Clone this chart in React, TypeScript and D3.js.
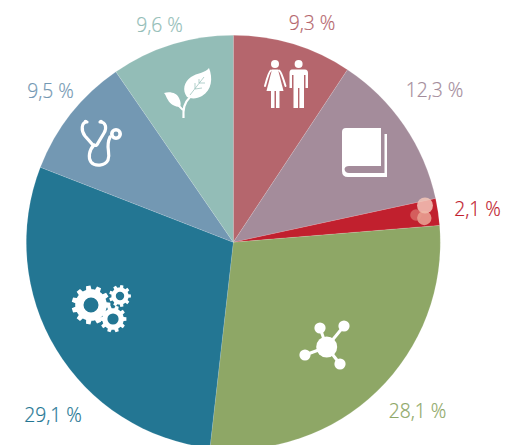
import React, { useEffect, useRef } from 'react'
import * as d3 from 'd3'

// values clockwise from 12 o'clock
const categories = ['people', 'book', 'bubbles', 'network', 'gears', 'stethoscope', 'leaf']
const shares = [9.3, 12.3, 2.1, 28.1, 29.1, 9.5, 9.6]
const shareLabels = ['9,3 %', '12,3 %', '2,1 %', '28,1 %', '29,1 %', '9,5 %', '9,6 %']

const sliceColors = ['#b5666d', '#a48c9b', '#c1202e', '#8ea766', '#237693', '#7398b3', '#93bdb7']

const width = 506
const height = 445
const center = { x: 233.3, y: 242.3 }
const radius = 207

// label centre + baseline, in page pixels
const labelSpots = [
    [312, 30], [434.5, 97], [477.5, 216], [417.5, 418], [53, 422], [50.5, 98], [159.5, 32],
]
// icon centres
const peopleSpot = [286, 85]
const bookSpot = [364, 152]

const gearPath = (cx: number, cy: number, outer: number, inner: number, hole: number, teeth: number) => {
    const p = d3.path()
    const step = (Math.PI * 2) / teeth
    for (let i = 0; i < teeth; i++) {
        const a = i * step
        const pts: [number, number][] = [
            [inner, a - step * 0.5],
            [inner, a - step * 0.3],
            [outer, a - step * 0.2],
            [outer, a + step * 0.2],
            [inner, a + step * 0.3],
        ]
        pts.forEach(([r, t], j) => {
            const x = cx + r * Math.cos(t)
            const y = cy + r * Math.sin(t)
            if (i === 0 && j === 0) p.moveTo(x, y)
            else p.lineTo(x, y)
        })
    }
    p.closePath()
    p.moveTo(cx + hole, cy)
    p.arc(cx, cy, hole, 0, Math.PI * 2)
    return p.toString()
}

export default function App() {
    const ref = useRef<SVGSVGElement>(null)

    useEffect(() => {
        const svg = d3.select(ref.current)
        svg.selectAll('*').remove()

        const pie = d3.pie<number>().sort(null).value(d => d)
        const arc = d3.arc<d3.PieArcDatum<number>>().innerRadius(0).outerRadius(radius)

        const graph = svg.append('g').attr('transform', `translate(${center.x}, ${center.y})`)

        graph.selectAll('path')
            .data(pie(shares))
            .enter()
            .append('path')
            .attr('d', arc)
            .attr('fill', (d, i) => sliceColors[i])
            .attr('stroke', '#fff')
            .attr('stroke-opacity', 0.2)
            .attr('stroke-width', 0.6)

        // labels
        svg.append('g')
            .selectAll('text')
            .data(shareLabels)
            .enter()
            .append('text')
            .attr('x', (d, i) => labelSpots[i][0])
            .attr('y', (d, i) => labelSpots[i][1])
            .attr('text-anchor', 'middle')
            .attr('font-family', '"Open Sans", sans-serif')
            .attr('font-weight', 300)
            .attr('font-size', 19.3)
            .attr('fill', (d, i) => sliceColors[i])
            .attr('stroke', (d, i) => sliceColors[i])
            .attr('stroke-width', 0.2)
            .text(d => d)

        const icons = svg.append('g').attr('fill', '#fff')

        // people
        const people = icons.append('g').attr('transform', `translate(${peopleSpot[0]}, ${peopleSpot[1]})`)
        people.append('circle').attr('cx', -11).attr('cy', -21).attr('r', 4)
        people.append('circle').attr('cx', 12.6).attr('cy', -21).attr('r', 4)
        people.append('path').attr('d', 'M-14,-15.5 H-8 L-2.5,6 H-19.5 Z')
        people.append('path').attr('d', 'M-15,6 H-11.5 V23 H-15 Z M-10,6 H-6.5 V23 H-10 Z')
        people.append('path')
            .attr('fill', 'none').attr('stroke', '#fff').attr('stroke-width', 2).attr('stroke-linecap', 'round')
            .attr('d', 'M-15,-14.5 Q-17,-14 -21,1 M-7,-14.5 Q-5,-14 -0.5,1')
        people.append('path').attr('d', 'M6,-15.5 H19 Q22,-15.5 22,-12 V3 H19.5 V-10 H18 V23 H13.4 V3 H12 V23 H7.5 V-10 H6 V3 H3.5 V-12 Q3.5,-15.5 6,-15.5 Z')

        // book
        const book = icons.append('g').attr('transform', `translate(${bookSpot[0]}, ${bookSpot[1]})`)
        book.append('path').attr('d', 'M-18,-24 H17 V14 H-15 Q-19,14 -19.5,17 Q-19,21 -15,21 H20.5 V-18 H23 V25 H-16 Q-22,25 -22,19 V-20 Q-22,-24 -18,-24 Z')

        // bubbles on the thin slice
        const bubbles = [[425, 205.5, 8, '#f3c6b8', 0.85], [424.3, 218, 7.2, '#f0b8a6', 0.75], [416, 215, 5.8, '#e89c8c', 0.5]] as const
        svg.append('g')
            .selectAll('circle')
            .data(bubbles)
            .enter()
            .append('circle')
            .attr('cx', d => d[0])
            .attr('cy', d => d[1])
            .attr('r', d => d[2])
            .attr('fill', d => d[3])
            .attr('opacity', d => d[4])

        // network
        const net = icons.append('g')
        const hub = [326.7, 347]
        const nodes = [[320, 328], [344, 326], [305, 355], [340, 364]]
        nodes.forEach(n => {
            net.append('line').attr('x1', hub[0]).attr('y1', hub[1]).attr('x2', n[0]).attr('y2', n[1])
                .attr('stroke', '#fff').attr('stroke-width', 3)
            net.append('circle').attr('cx', n[0]).attr('cy', n[1]).attr('r', 5.6)
        })
        net.append('circle').attr('cx', hub[0]).attr('cy', hub[1]).attr('r', 10.5)

        // gears
        icons.append('path').attr('fill-rule', 'evenodd').attr('d', gearPath(91, 305, 19.5, 15.8, 7.5, 11))
        icons.append('path').attr('fill-rule', 'evenodd').attr('d', gearPath(120, 296, 11, 8.6, 4.2, 9))
        icons.append('path').attr('fill-rule', 'evenodd').attr('d', gearPath(113, 319, 13.5, 10.8, 5.6, 10))

        // stethoscope
        const steth = icons.append('g').attr('fill', 'none').attr('stroke', '#fff').attr('stroke-width', 3.2).attr('stroke-linecap', 'round')
        steth.append('path').attr('d', 'M87,122 C81,122 81,131 85,136 L93,145 C97,146 97,145 98,143 L104,133 C107,128 106,122 100,122')
        steth.append('path').attr('d', 'M94,145 C89,150 88,158 91,162 C95,167 105,166 108,160 C111,152 105,148 110,137')
        icons.append('circle').attr('cx', 116).attr('cy', 134).attr('r', 4.2)
            .attr('fill', 'none').attr('stroke', '#fff').attr('stroke-width', 3.6)
        icons.append('circle').attr('cx', 85.5).attr('cy', 121.5).attr('r', 1.8)
        icons.append('circle').attr('cx', 101).attr('cy', 121.5).attr('r', 1.8)

        // leaf
        const leaf = icons.append('g')
        leaf.append('path').attr('d', 'M209,68 C213,78 212,90 202,96 C197,99 191,99 187,97 C182,90 184,82 191,77 C197,73 205,73 209,68 Z')
        leaf.append('path').attr('d', 'M164,93 C170,91 177,93 179,98 C181,102 181,105 180,107 C175,107 170,104 168,100 C166,97 166,95 164,93 Z')
        leaf.append('path')
            .attr('fill', 'none').attr('stroke', '#fff').attr('stroke-width', 2.2)
            .attr('d', 'M183.5,118 C183,109 184,103 190,97')
        leaf.append('path')
            .attr('fill', 'none').attr('stroke', sliceColors[6]).attr('stroke-width', 0.7)
            .attr('d', 'M190,95 L204,77 M195,89 L195,83 M195,89 L202,88 M199,83 L199,79 M199,83 L205,83')
        leaf.append('path').attr('fill', 'none').attr('stroke', '#fff').attr('stroke-width', 2)
            .attr('d', 'M183,110 L177,104')
    }, [])

    return (
        <svg
            ref={ref}
            width={width}
            height={height}
            data-categories={categories.join(',')}
            style={{ position: 'absolute', left: 0, top: 0, display: 'block', background: '#fff' }}
        />
    )
}
